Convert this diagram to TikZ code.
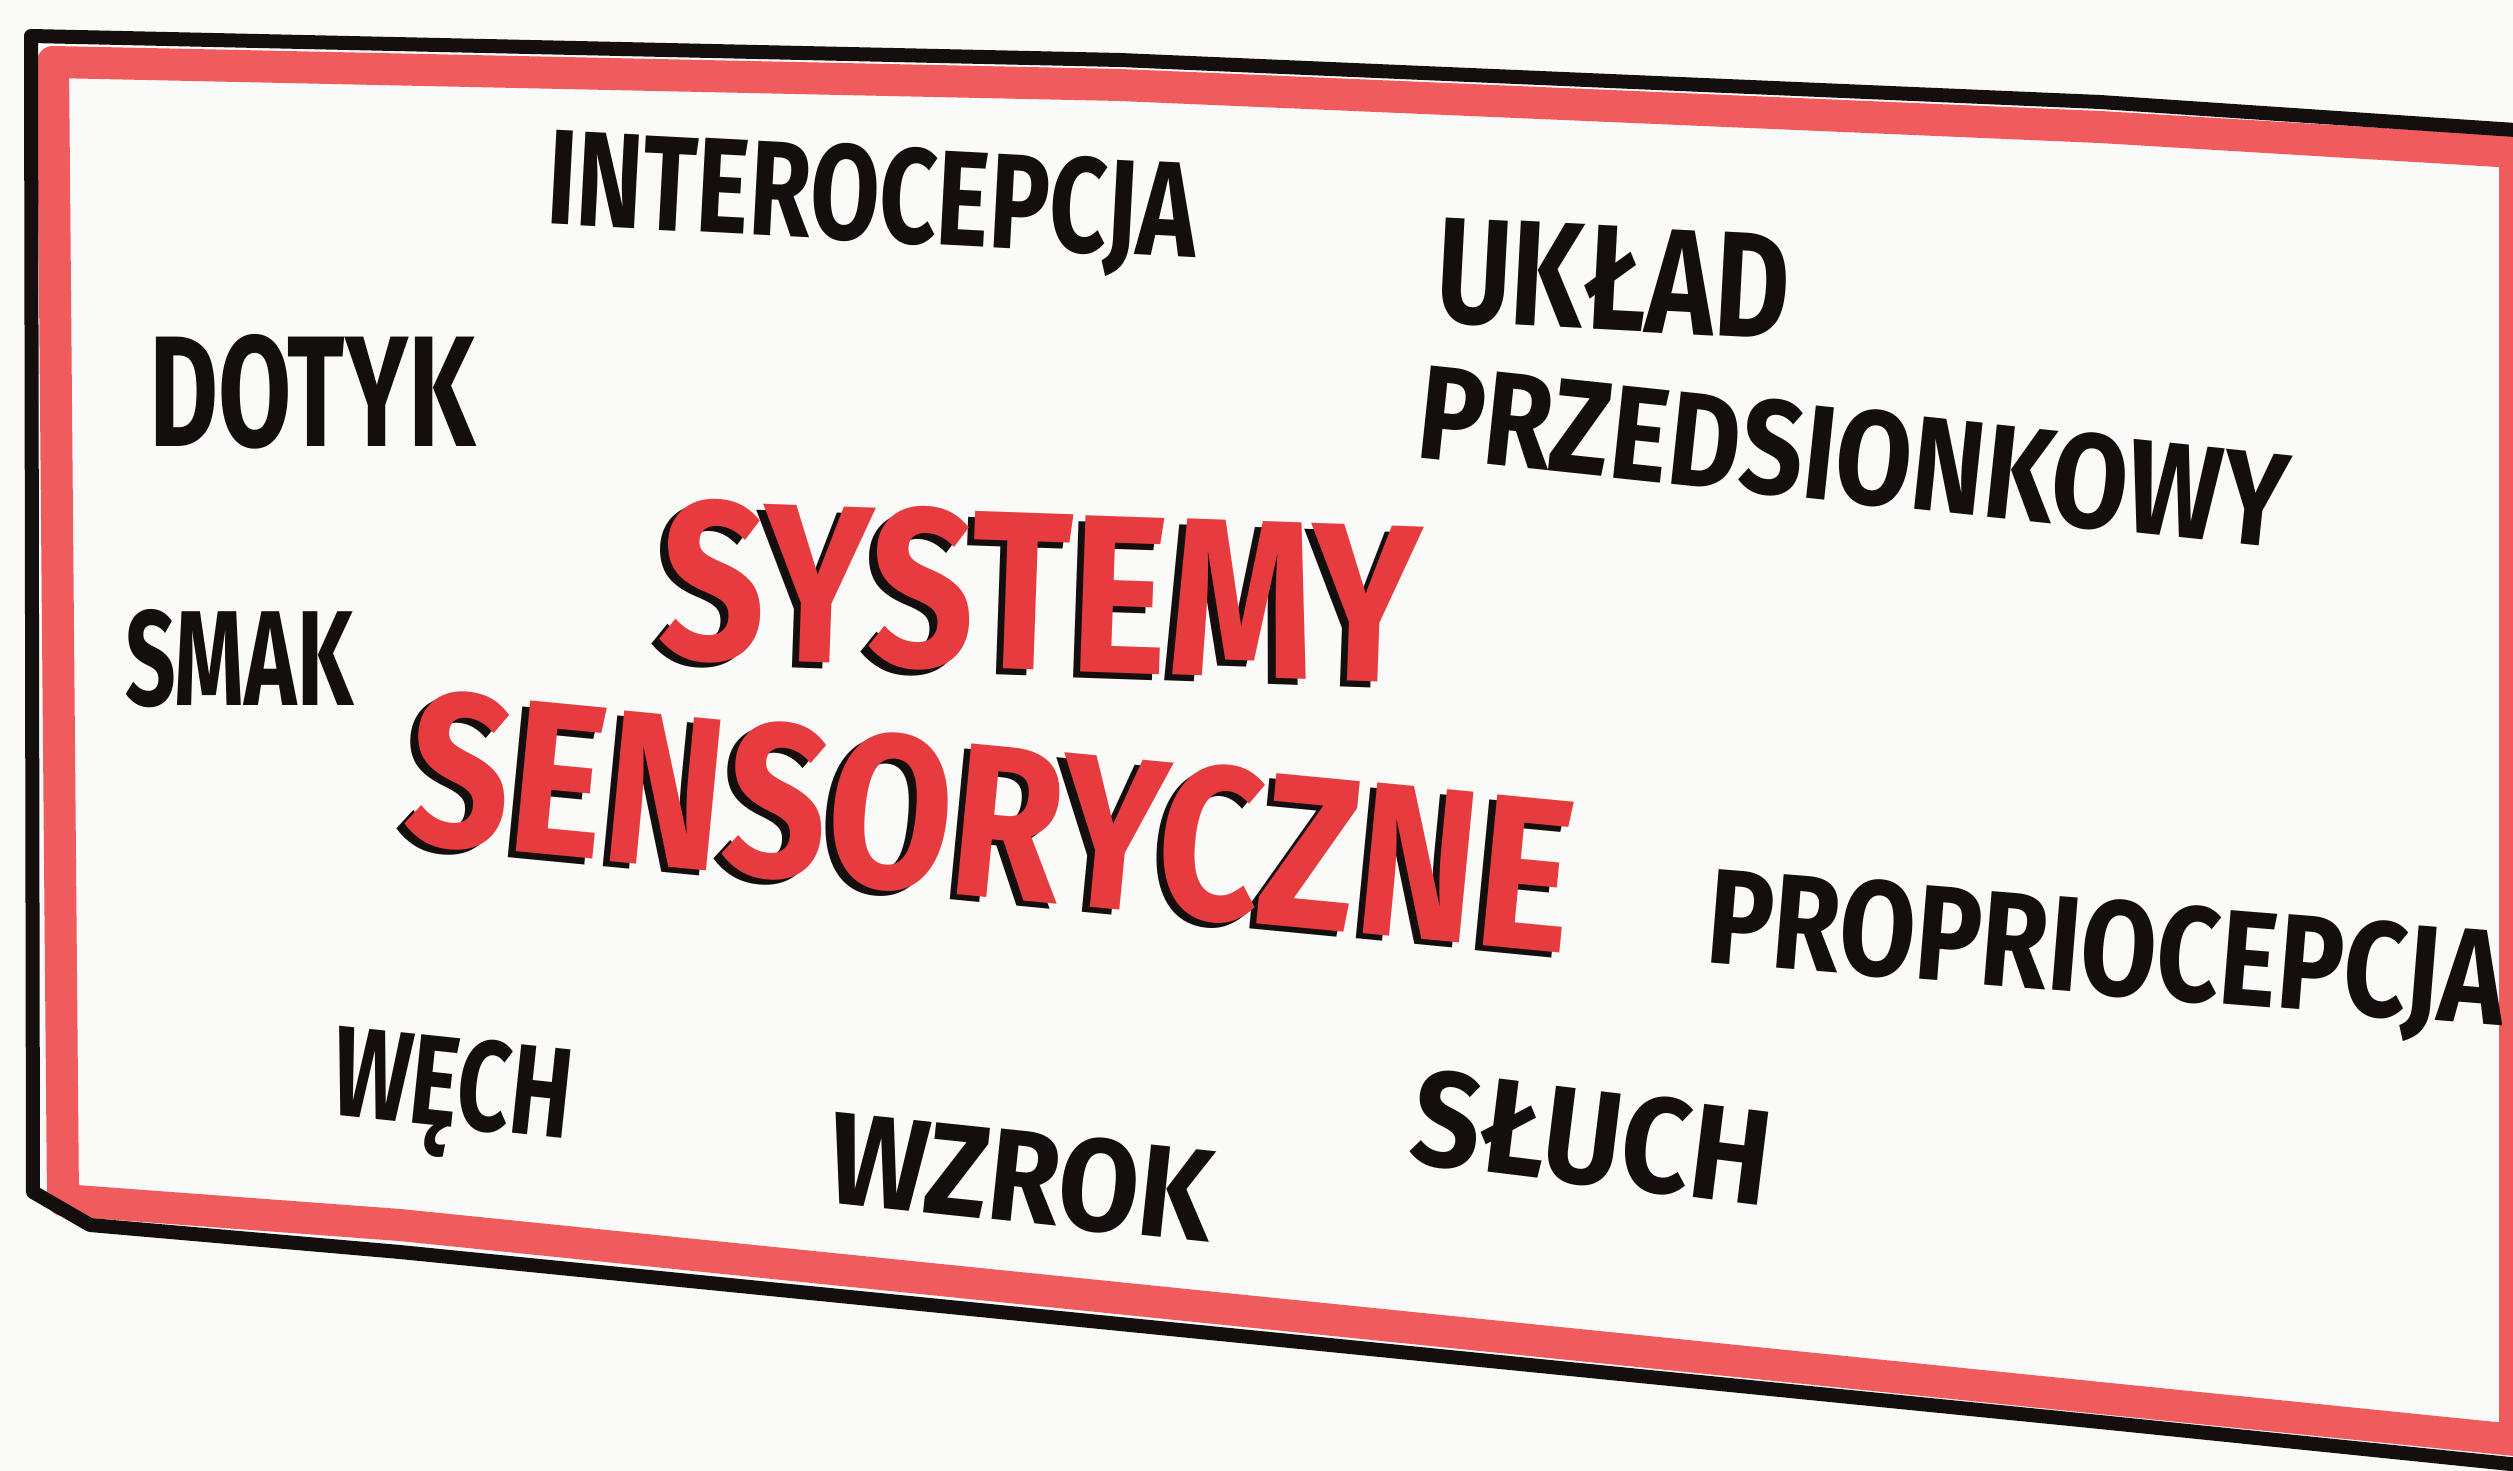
\documentclass[tikz,border=0pt]{standalone}
\usepackage{fontspec}
\usepackage{graphicx}
\setmainfont{Fira Sans}
\definecolor{framered}{RGB}{240,92,94}
\definecolor{titlered}{RGB}{230,60,64}
\definecolor{ink}{RGB}{20,14,14}
\definecolor{paper}{RGB}{250,250,249}
\newcommand\wbox[3]{\resizebox{#1pt}{#2pt}{#3}}
\newcommand\shadowed[3]{\rlap{\hspace*{-7pt}\raisebox{-6pt}{\color{ink}\wbox{#1}{#2}{#3}}}\wbox{#1}{#2}{#3}}
\tikzset{
  word/.style={anchor=base west, inner sep=0pt, outer sep=0pt, text=ink, font=\bfseries},
  titleword/.style={anchor=base west, inner sep=0pt, outer sep=0pt, text=titlered, font=\bfseries},
  blackline/.style={draw=ink, line width=14pt, line join=round, line cap=round},
  redband/.style={draw=framered, line width=32pt, line join=round}
}
\begin{document}
\begin{tikzpicture}[x=1pt,y=-1pt]
\useasboundingbox (0,0) rectangle (2513,1471);
\clip (0,0) rectangle (2513,1471);
\fill[paper] (0,0) rectangle (2513,1471);
% frame
\draw[redband] (53,62) -- (1120,85) -- (2100,127) -- (2515,152) -- (2515,1440) -- (2100,1398) -- (400,1225) -- (63,1200) -- cycle;
\draw[blackline] (2530,131) -- (2100,102) -- (1120,60) -- (31,36) -- (33,1192) -- (90,1225) -- (400,1252) -- (2100,1422) -- (2530,1466);
% small words
\node[word, rotate=-3] (intero) at (545,224) {\wbox{650}{96}{INTEROCEPCJA}};
\node[word] (dotyk) at (149,446) {\wbox{326}{112}{DOTYK}};
\node[word, rotate=-3] (uklad) at (1434,321) {\wbox{353}{104}{UKŁAD}};
\node[word, rotate=-6] (przed) at (1414,457) {\wbox{873}{95}{PRZEDSIONKOWY}};
\node[word] (smak) at (125,705) {\wbox{228}{96}{SMAK}};
\node[word, rotate=-4.6] (proprio) at (1704,962) {\wbox{800}{96}{PROPRIOCEPCJA}};
\node[word, rotate=-6] (wech) at (329,1114) {\wbox{240}{91}{WĘCH}};
\node[word, rotate=-6] (wzrok) at (825,1202) {\wbox{385}{93}{WZROK}};
\node[word, rotate=-7] (sluch) at (1407,1162) {\wbox{360}{96}{SŁUCH}};
% title with shadow
\node[titleword, rotate=-2] (systemy) at (657,657) {\shadowed{761}{160}{SYSTEMY}};
\node[titleword, rotate=-5.5] (sensoryczne) at (401,841) {\shadowed{1170}{155}{SENSORYCZNE}};
\end{tikzpicture}
\end{document}
